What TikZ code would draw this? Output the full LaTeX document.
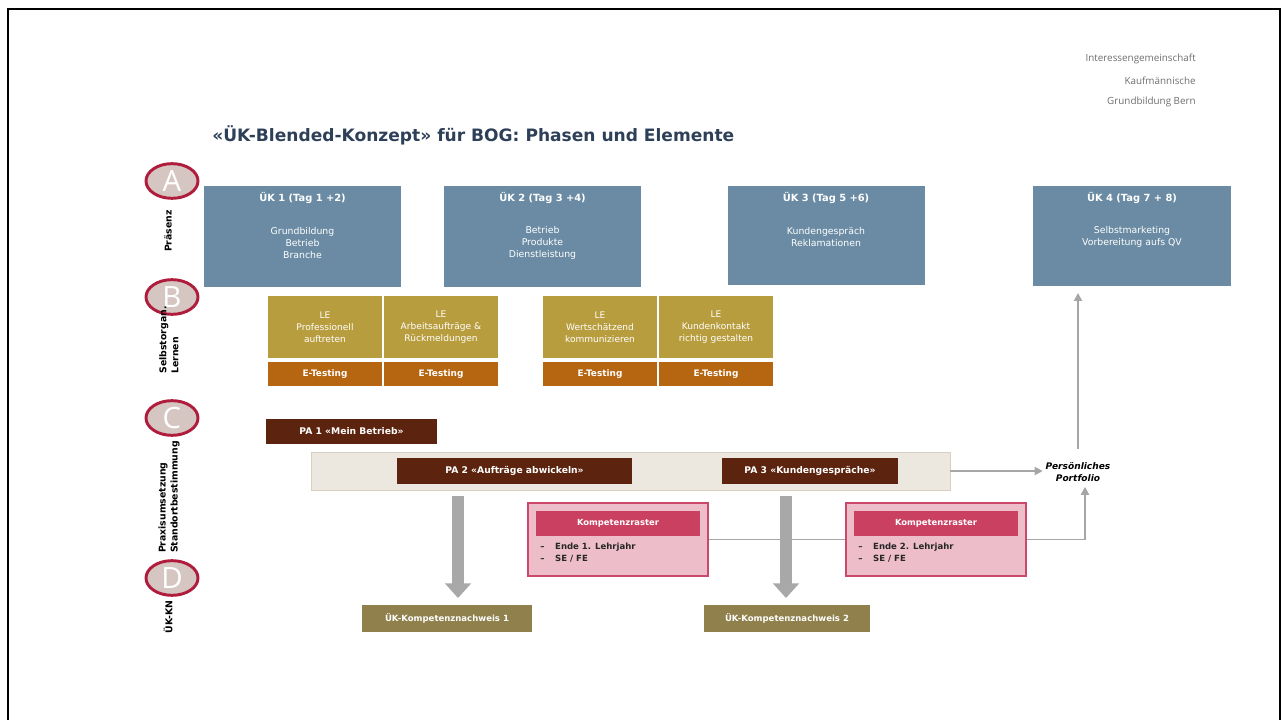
\documentclass[tikz,border=0pt]{standalone}
\usepackage{fontspec}
\setmainfont{DejaVu Sans}
\newfontfamily\hdrfont{Open Sans}
\usetikzlibrary{arrows.meta,shapes.geometric,calc}
\definecolor{ukblue}{RGB}{106,139,163}
\definecolor{legold}{RGB}{184,157,62}
\definecolor{etorange}{RGB}{182,101,16}
\definecolor{pabrown}{RGB}{92,36,14}
\definecolor{bandbeige}{RGB}{237,232,223}
\definecolor{bandline}{RGB}{214,207,194}
\definecolor{krfill}{RGB}{237,190,202}
\definecolor{krline}{RGB}{204,72,106}
\definecolor{krhead}{RGB}{201,64,96}
\definecolor{knolive}{RGB}{143,128,76}
\definecolor{circfill}{RGB}{214,198,194}
\definecolor{circline}{RGB}{176,28,60}
\definecolor{bigarrowgrey}{RGB}{168,168,168}
\definecolor{thingrey}{RGB}{166,166,166}
\definecolor{titleblue}{RGB}{46,64,88}
\definecolor{hdrgrey}{RGB}{110,110,110}
\begin{document}
\begin{tikzpicture}[x=0.75pt,y=-0.75pt,
  every node/.style={inner sep=0pt},
  ukbox/.style={fill=ukblue, minimum width=147.75pt, minimum height=75.75pt},
  wtitle/.style={text=white, font=\bfseries\fontsize{7.4}{8.5}\selectfont},
  wbody/.style={text=white, align=center, font=\fontsize{7}{9}\selectfont},
  lebox/.style={fill=legold, minimum width=85.5pt, minimum height=46.5pt, text=white, align=center, font=\fontsize{6.8}{9}\selectfont},
  etbox/.style={fill=etorange, minimum width=85.5pt, minimum height=18pt, text=white, font=\bfseries\fontsize{6.7}{8}\selectfont},
  pabox/.style={fill=pabrown, minimum height=19pt, text=white, font=\bfseries\fontsize{6.9}{8}\selectfont},
  krbox/.style={fill=krfill, draw=krline, line width=1.5pt, minimum width=135pt, minimum height=54.75pt},
  krheader/.style={fill=krhead, minimum width=123pt, minimum height=18.75pt, text=white, font=\bfseries\fontsize{6.3}{8}\selectfont},
  krlist/.style={align=left, text=black!85, font=\bfseries\fontsize{6.4}{9}\selectfont},
  knbox/.style={fill=knolive, minimum height=20.25pt, text=white, font=\bfseries\fontsize{6.4}{8}\selectfont},
  letter/.style={ellipse, fill=circfill, draw=circline, line width=2.2pt, minimum width=39pt, minimum height=26pt, text=white, font=\hdrfont\fontsize{22}{22}\selectfont},
  vlabel/.style={rotate=90, align=left, font=\bfseries\fontsize{7}{9}\selectfont},
  thin/.style={draw=thingrey, line width=1.4pt},
  thinarrow/.style={thin, -{Triangle[width=6pt,length=6pt]}},
  bigarrow/.style={draw=bigarrowgrey, line width=9pt, -{Triangle[width=19pt,length=11pt]}},
  hdr/.style={anchor=east, text=hdrgrey, font=\hdrfont\fontsize{7.4}{8}\selectfont}
]
\useasboundingbox (0,0) rectangle (1282,720);
% frame
\draw[line width=2.2pt, black] (8,722) -- (8,9) -- (1280,9) -- (1280,722);

% header
\node[hdr] (h1) at (1196,59) {Interessengemeinschaft};
\node[hdr] (h2) at (1196,81) {Kaufmännische};
\node[hdr] (h3) at (1196,102) {Grundbildung Bern};

% title
\node[anchor=west, text=titleblue, font=\bfseries\fontsize{12.8}{14}\selectfont] (title) at (212,135) {«ÜK-Blended-Konzept» für BOG: Phasen und Elemente};

% letters and labels
\node[letter] (cA) at (172,181) {A};
\node[letter] (cB) at (172,297) {B};
\node[letter] (cC) at (172,418) {C};
\node[letter] (cD) at (172,578) {D};
\node[vlabel] (lA) at (168,231) {Präsenz};
\node[vlabel] (lB) at (169,340) {Selbstorgan.\\Lernen};
\node[vlabel] (lC) at (169,497) {Praxisumsetzung\\Standortbestimmung};
\node[vlabel] (lD) at (168,617) {ÜK-KN};

% UK boxes
\node[ukbox] (uk1) at (302.5,236.5) {};
\node[wtitle] (uk1t) at (302.5,198) {ÜK 1 (Tag 1 +2)};
\node[wbody] (uk1b) at (302.5,243) {Grundbildung\\Betrieb\\Branche};
\node[ukbox] (uk2) at (542.5,236.5) {};
\node[wtitle] (uk2t) at (542.5,198) {ÜK 2 (Tag 3 +4)};
\node[wbody] (uk2b) at (542.5,243) {Betrieb\\Produkte\\Dienstleistung};
\node[ukbox, minimum height=74.25pt] (uk3) at (826,235.5) {};
\node[wtitle] (uk3t) at (826,198) {ÜK 3 (Tag 5 +6)};
\node[wbody] (uk3b) at (826,237) {Kundengespräch\\Reklamationen};
\node[ukbox, minimum width=148.5pt, minimum height=75pt] (uk4) at (1132,236) {};
\node[wtitle] (uk4t) at (1132,198) {ÜK 4 (Tag 7 + 8)};
\node[wbody] (uk4b) at (1132,237) {Selbstmarketing\\Vorbereitung aufs QV};

% LE boxes
\node[lebox] (le1) at (325,327) {LE\\Professionell\\auftreten};
\node[lebox] (le2) at (441,327) {LE\\Arbeitsaufträge \&\\Rückmeldungen};
\node[lebox] (le3) at (600,327) {LE\\Wertschätzend\\kommunizieren};
\node[lebox] (le4) at (716,327) {LE\\Kundenkontakt\\richtig gestalten};
\node[etbox] (et1) at (325,374) {E-Testing};
\node[etbox] (et2) at (441,374) {E-Testing};
\node[etbox] (et3) at (600,374) {E-Testing};
\node[etbox] (et4) at (716,374) {E-Testing};

% PA
\node[pabox, minimum width=128.25pt, minimum height=18.75pt] (pa1) at (351.5,431.5) {PA 1 «Mein Betrieb»};
\node[fill=bandbeige, draw=bandline, line width=0.6pt, minimum width=479.25pt, minimum height=28.5pt] (band) at (630.5,471) {};
\node[pabox, minimum width=176.25pt] (pa2) at (514.5,471) {PA 2 «Aufträge abwickeln»};
\node[pabox, minimum width=132pt] (pa3) at (810,471) {PA 3 «Kundengespräche»};
\node[align=center, font=\bfseries\itshape\fontsize{6.8}{8.4}\selectfont] (port) at (1078,472) {Persönliches\\Portfolio};

% Kompetenzraster
\node[krbox] (kr1) at (618,539.5) {};
\node[krheader] (kr1h) at (618,523.5) {Kompetenzraster};
\node[krlist, anchor=north west] (kr1l) at (540,543) {–\hspace{8pt}Ende 1. Lehrjahr\\–\hspace{8pt}SE / FE};
\node[krbox] (kr2) at (936,539.5) {};
\node[krheader] (kr2h) at (936,523.5) {Kompetenzraster};
\node[krlist, anchor=north west] (kr2l) at (858,543) {–\hspace{8pt}Ende 2. Lehrjahr\\–\hspace{8pt}SE / FE};

% KN boxes
\node[knbox, minimum width=127.5pt] (kn1) at (447,618.5) {ÜK-Kompetenznachweis 1};
\node[knbox, minimum width=124.5pt] (kn2) at (787,618.5) {ÜK-Kompetenznachweis 2};

% connectors
\coordinate (a1) at (458,0);
\coordinate (a2) at (786,0);
\draw[thin] (kr1.east) -- (kr2.west);
\draw[bigarrow, shorten <=4.5pt, shorten >=5pt] (band.south -| a1) -- (kn1.north -| a1);
\draw[bigarrow, shorten <=4.5pt, shorten >=5pt] (band.south -| a2) -- (kn2.north -| a2);
\draw[thinarrow, shorten >=2pt] (band.east) -- (band.east -| port.west);
\draw[thinarrow, shorten <=10pt, shorten >=5pt] (port.north) -- (port.north |- uk4.south);
\coordinate (pin) at ($(port.south)+(7,0)$);
\draw[thinarrow, shorten >=4pt] (kr2.east) -| (pin);
\end{tikzpicture}
\end{document}
